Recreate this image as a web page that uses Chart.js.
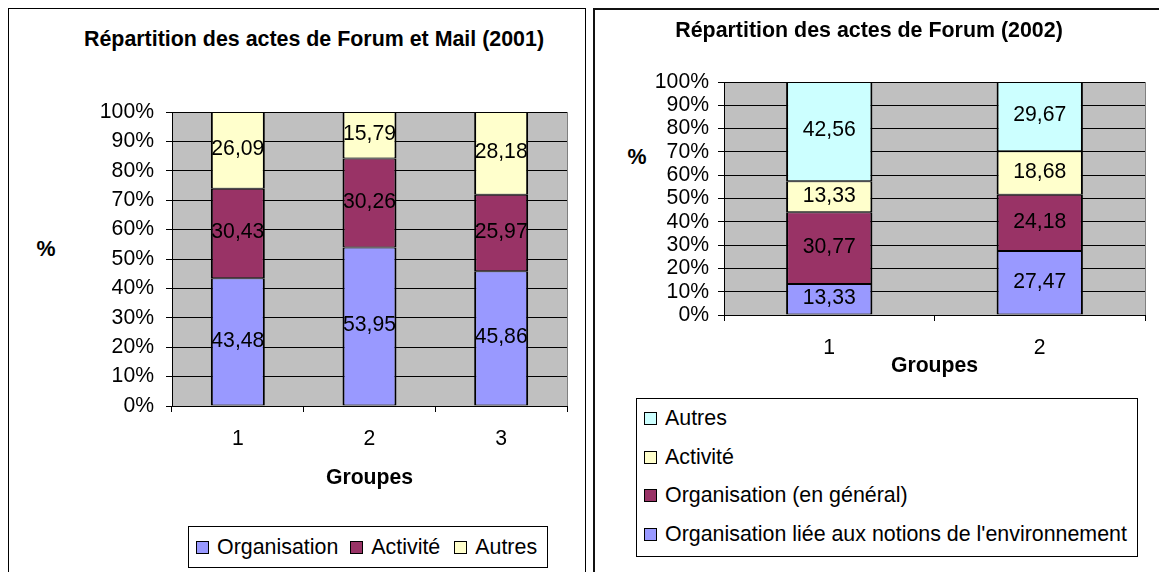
<!DOCTYPE html>
<html lang="fr">
<head>
<meta charset="utf-8">
<title>Répartition des actes</title>
<script src="https://cdn.jsdelivr.net/npm/chart.js@4/dist/chart.umd.min.js"></script>
<style>
  html, body { margin: 0; padding: 0; background: #fff; overflow: hidden; }
  body { width: 1159px; height: 572px; position: relative; font-family: "Liberation Sans", Arial, sans-serif; color: #000; }
  .cadre { position: absolute; box-sizing: border-box; background: #fff; }
  .zone { position: absolute; top: 0; height: 572px; }
  .titre { position: absolute; width: 600px; text-align: center; font-weight: bold; font-size: 21.4px; line-height: 24px; white-space: nowrap; }
  .pct { position: absolute; width: 40px; text-align: center; font-weight: bold; font-size: 21.4px; line-height: 24px; }
  .legende { position: absolute; box-sizing: border-box; border: 1.5px solid #000; background: #fff; font-size: 21.4px; }
  .legende .item { display: flex; align-items: center; white-space: nowrap; }
  .legende .carre { width: 11px; height: 11px; border: 1px solid #000; margin-right: 8px; flex: none; }
</style>
</head>
<body>
  <div class="cadre" style="left:8px;top:8px;width:578px;height:600px;border:1.5px solid #000;"></div>
  <div class="cadre" style="left:593px;top:8px;width:600px;height:600px;border:2px solid #111;"></div>

  <div class="titre" style="left:14px;top:27px;">Répartition des actes de Forum et Mail (2001)</div>
  <div class="pct" style="left:26px;top:237px;">%</div>
  <div class="zone" style="left:0;width:589px;"><canvas id="graphe2001"></canvas></div>
  <div class="legende" id="legende2001" style="left:188px;top:526px;width:360px;height:42px;display:flex;align-items:center;padding-left:7px;"></div>

  <div class="titre" style="left:569px;top:18px;">Répartition des actes de Forum (2002)</div>
  <div class="pct" style="left:617px;top:145px;">%</div>
  <div class="zone" style="left:594px;width:565px;"><canvas id="graphe2002"></canvas></div>
  <div class="legende" id="legende2002" style="left:636px;top:398px;width:502px;height:159px;padding-left:7px;"></div>

<script>
// Données 2001 (Forum et Mail), en %
var groupes2001 = ['1', '2', '3'];
var organisation2001 = [43.48, 53.95, 45.86];
var activite2001 = [30.43, 30.26, 25.97];
var autres2001 = [26.09, 15.79, 28.18];

// Données 2002 (Forum), en %
var groupes2002 = ['1', '2'];
var orgEnvironnement2002 = [13.33, 27.47];
var orgGeneral2002 = [30.77, 24.18];
var activite2002 = [13.33, 18.68];
var autres2002 = [42.56, 29.67];

var graduationsY = [0, 10, 20, 30, 40, 50, 60, 70, 80, 90, 100];

var POLICE = '"Liberation Sans", Arial, sans-serif';
var TAILLE = 21.2;

Chart.defaults.font.family = POLICE;
Chart.defaults.font.size = TAILLE;
Chart.defaults.color = '#000';

// Fond gris de la zone de traçage
var fondGris = {
    id: 'fondGris',
    beforeDraw: function(chart) {
        var a = chart.chartArea;
        var ctx = chart.ctx;
        ctx.save();
        ctx.fillStyle = '#c0c0c0';
        ctx.fillRect(a.left, a.top, a.right - a.left, a.bottom - a.top);
        ctx.strokeStyle = '#808080';
        ctx.lineWidth = 1;
        ctx.strokeRect(Math.round(a.left) + 0.5, Math.round(a.top) + 0.5, Math.round(a.right - a.left), Math.round(a.bottom - a.top));
        ctx.restore();
    }
};

// Valeurs écrites au milieu de chaque segment
var etiquettes = {
    id: 'etiquettes',
    afterDatasetsDraw: function(chart) {
        var ctx = chart.ctx;
        ctx.save();
        ctx.font = TAILLE + 'px ' + POLICE;
        ctx.fillStyle = '#000';
        ctx.textAlign = 'center';
        ctx.textBaseline = 'middle';
        chart.data.datasets.forEach(function(ds, i) {
            var meta = chart.getDatasetMeta(i);
            meta.data.forEach(function(barre, j) {
                var texte = ds.data[j].toFixed(2).replace('.', ',');
                ctx.fillText(texte, barre.x, (barre.y + barre.base) / 2 - 1);
            });
        });
        ctx.restore();
    }
};

function serie(nom, valeurs, couleur) {
    return {
        label: nom,
        data: valeurs,
        backgroundColor: couleur,
        borderColor: '#000',
        borderWidth: { left: 2, right: 2, top: 1, bottom: 1 },
        borderSkipped: false,
        barPercentage: 0.41,
        categoryPercentage: 1
    };
}

function options(largeurY, hauteurX, padding, padY) {
    return {
        responsive: true,
        maintainAspectRatio: false,
        animation: false,
        layout: { padding: padding },
        plugins: {
            legend: { display: false },
            title: { display: false },
            tooltip: { enabled: false }
        },
        scales: {
            x: {
                stacked: true,
                grid: { offset: true, drawOnChartArea: false, color: '#000', tickLength: 6, lineWidth: 1 },
                border: { color: '#000', width: 1 },
                ticks: { padding: 14, color: '#000' },
                title: { display: true, text: 'Groupes', font: { weight: 'bold', size: TAILLE }, color: '#000', padding: 0 },
                afterFit: function(s) { s.height = hauteurX; }
            },
            y: {
                stacked: true,
                min: 0,
                max: 100,
                afterBuildTicks: function(s) {
                    s.ticks = graduationsY.map(function(v) { return { value: v }; });
                },
                ticks: {
                    autoSkip: false,
                    padding: padY,
                    color: '#000',
                    callback: function(v) { return v + '%'; }
                },
                grid: { color: '#000', tickLength: 6, lineWidth: 1 },
                border: { color: '#000', width: 1 },
                afterFit: function(s) { s.width = largeurY; }
            }
        }
    };
}

function legende(id, series) {
    var boite = document.getElementById(id);
    series.forEach(function(s) {
        var item = document.createElement('div');
        item.className = 'item';
        item.style.cssText = s.style;
        var carre = document.createElement('span');
        carre.className = 'carre';
        carre.style.background = s.couleur;
        var texte = document.createElement('span');
        texte.textContent = s.nom;
        item.appendChild(carre);
        item.appendChild(texte);
        boite.appendChild(item);
    });
}

var BLEU = '#9999ff', BORDEAUX = '#993366', JAUNE = '#ffffcc', CYAN = '#ccffff';

new Chart(document.getElementById('graphe2001'), {
    type: 'bar',
    data: {
        labels: groupes2001,
        datasets: [
            serie('Organisation', organisation2001, BLEU),
            serie('Activité', activite2001, BORDEAUX),
            serie('Autres', autres2001, JAUNE)
        ]
    },
    options: options(172, 85, { top: 112, left: 0, right: 22, bottom: 81 }, 12),
    plugins: [fondGris, etiquettes]
});

new Chart(document.getElementById('graphe2002'), {
    type: 'bar',
    data: {
        labels: groupes2002,
        datasets: [
            serie("Organisation liée aux notions de l'environnement", orgEnvironnement2002, BLEU),
            serie('Organisation (en général)', orgGeneral2002, BORDEAUX),
            serie('Activité', activite2002, JAUNE),
            serie('Autres', autres2002, CYAN)
        ]
    },
    options: options(130, 63.6, { top: 82, left: 0, right: 14, bottom: 193.4 }, 9),
    plugins: [fondGris, etiquettes]
});

legende('legende2001', [
    { nom: 'Organisation', couleur: BLEU, style: 'margin-right:12px' },
    { nom: 'Activité', couleur: BORDEAUX, style: 'margin-right:14px' },
    { nom: 'Autres', couleur: JAUNE, style: '' }
]);

legende('legende2002', [
    { nom: 'Autres', couleur: CYAN, style: 'height:38.7px' },
    { nom: 'Activité', couleur: JAUNE, style: 'height:38.7px' },
    { nom: 'Organisation (en général)', couleur: BORDEAUX, style: 'height:38.7px' },
    { nom: "Organisation liée aux notions de l'environnement", couleur: BLEU, style: 'height:38.7px' }
]);
</script>
</body>
</html>
